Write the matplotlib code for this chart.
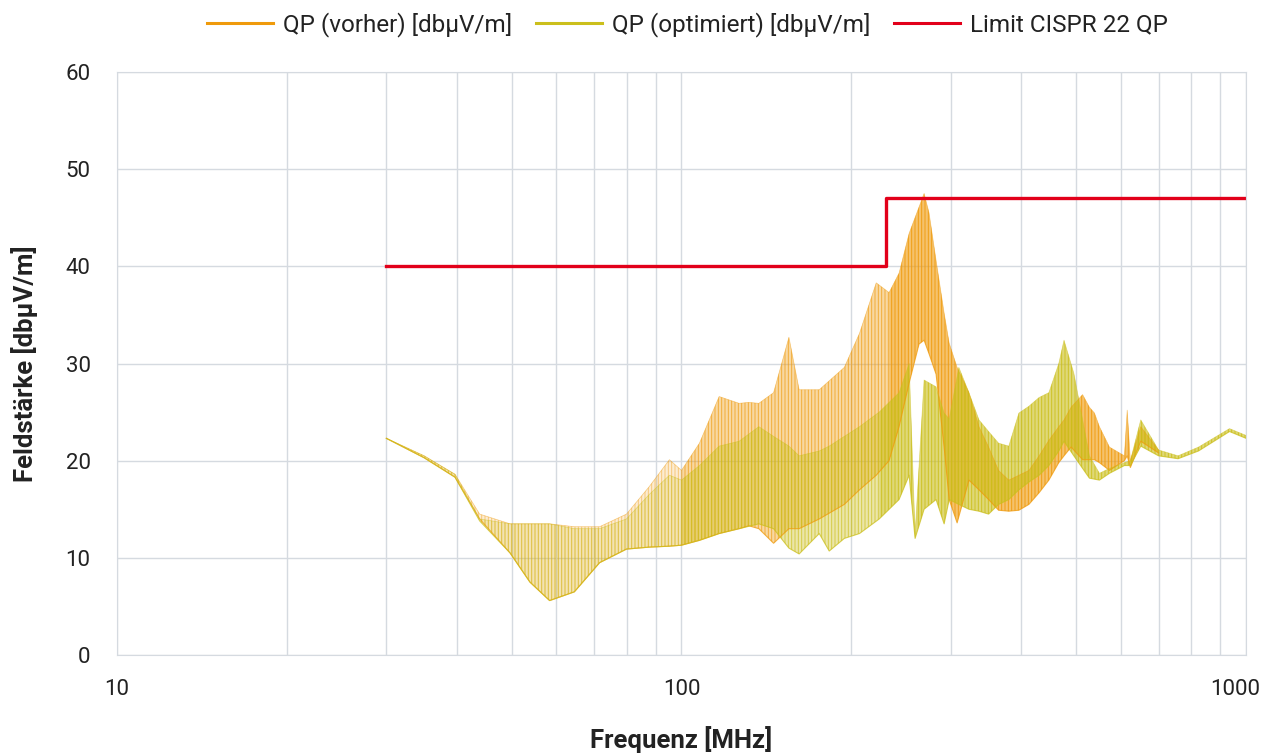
"""
Feldstärke-Messung: QP vorher / optimiert gegen CISPR 22 Grenzwert.
Hüllkurven der Messkurven aus dem Diagramm abgelesen.
"""

import numpy as np
import matplotlib.pyplot as plt
from matplotlib.transforms import ScaledTranslation

# ── Messwerte (Hüllkurven) ───────────────────────────────────────────────────
# QP vorher: Frequenz [MHz], obere / untere Hüllkurve [dBµV/m]
f_vorher = [30, 35, 39.7, 43.9, 49.7, 53.9, 58.4, 64.6, 71.6, 79.9, 87.6, 95.2,
            100, 107.6, 116.6, 126.5, 131.6, 137.1, 145.6, 155, 161.6, 175.4,
            194.3, 206.7, 221.3, 233.2, 242.9, 253.1, 263.5, 269, 274.5, 282.5,
            291.9, 298, 307.8, 323, 336.5, 350, 364.5, 380, 396, 412.5, 430,
            447.5, 466, 476, 490, 513.5, 528, 539, 550, 573, 609, 616, 624,
            651, 700]
hi_vorher = [22.3, 20.5, 18.6, 14.5, 13.5, 13.5, 13.5, 13.2, 13.2, 14.5, 17.3, 20.1,
             19.0, 21.8, 26.6, 25.9, 26.0, 25.9, 27.0, 32.7, 27.3, 27.3,
             29.6, 33.1, 38.3, 37.3, 39.3, 43.4, 46.1, 47.5, 45.5, 40.6,
             35.2, 32.1, 29.6, 27.0, 23.5, 21.4, 19.0, 18.0, 18.5, 19.0, 20.5,
             22.1, 23.5, 24.2, 25.5, 26.8, 25.5, 24.9, 23.5, 21.4, 20.5, 25.2, 20.0,
             23.5, 21.1]
lo_vorher = [22.3, 20.3, 18.3, 14.0, 10.5, 7.5, 5.6, 6.5, 9.5, 10.9, 11.1, 11.2,
             11.3, 11.8, 12.5, 13.0, 13.3, 13.0, 11.5, 13.0, 13.0, 14.0,
             15.5, 17.0, 18.5, 20.0, 23.5, 28.0, 32.0, 32.4, 31.0, 28.9,
             21.4, 16.0, 13.6, 18.0, 17.0, 16.0, 14.9, 14.8, 14.9, 15.5, 16.7,
             18.0, 19.8, 20.5, 21.4, 20.1, 20.1, 20.1, 19.8, 19.0, 20.0, 20.5, 19.3,
             22.0, 20.8]

# QP optimiert
f_opt = [30, 35, 39.7, 43.9, 49.7, 53.9, 58.4, 64.6, 71.6, 79.9, 87.6, 95.2,
         100, 107.6, 116.6, 126.5, 137.1, 145.6, 155, 161.6, 175.4, 182.7,
         194.3, 206.7, 224, 242.9, 253.1, 259.3, 269, 282.5, 291.9, 298,
         310, 323, 336.5, 350, 364.5, 380, 396, 412.5, 430, 447.5, 466,
         476, 495.5, 528, 550, 573, 609, 624, 651, 700, 758, 824, 935, 1000]
hi_opt = [22.3, 20.5, 18.6, 14.0, 13.5, 13.5, 13.5, 13.0, 13.0, 14.0, 16.5, 18.5,
          18.0, 19.5, 21.5, 22.0, 23.5, 22.5, 21.5, 20.5, 21.0, 21.5,
          22.5, 23.5, 25.0, 27.0, 30.0, 12.5, 28.3, 27.6, 24.9, 24.3,
          29.6, 27.0, 24.2, 23.0, 21.8, 21.5, 24.9, 25.6, 26.5, 27.0, 30.0,
          32.4, 29.0, 20.5, 18.7, 19.2, 19.8, 20.0, 24.2, 21.1, 20.5, 21.4, 23.3, 22.6]
lo_opt = [22.3, 20.3, 18.3, 13.8, 10.5, 7.5, 5.6, 6.5, 9.5, 10.9, 11.1, 11.2,
          11.3, 11.8, 12.5, 13.0, 13.5, 13.0, 11.0, 10.4, 12.5, 10.7,
          12.0, 12.5, 14.0, 16.0, 18.5, 12.0, 15.0, 16.0, 13.5, 16.0,
          15.5, 15.0, 14.8, 14.5, 15.5, 16.0, 17.0, 17.8, 18.5, 19.5, 21.0,
          22.0, 20.5, 18.2, 18.0, 18.7, 19.5, 19.5, 21.5, 20.5, 20.2, 21.0, 23.0, 22.3]

# Grenzwert CISPR 22 QP (Klasse B, 3 m)
f_limit = [30, 230, 230, 1000]
limit = [40, 40, 47, 47]

# ── Stil ─────────────────────────────────────────────────────────────────────
C_VORHER = "#ef9a0b"
C_OPT    = "#cbbf1c"
C_LIMIT  = "#e2001a"
C_GRID   = "#d5dae0"
C_TEXT   = "#222222"
# Deckkraft je Frequenzbereich: dünne Spitzen unten, dichte Kurve oben
BANDS = [(0, 100, 0.18, 0.45), (100, 230, 0.38, 0.7), (230, 2000, 0.6, 0.9)]

plt.rcParams["font.family"] = ["Roboto", "DejaVu Sans"]
plt.rcParams["hatch.linewidth"] = 0.7


def draw_band(ax, f, lo, hi, color):
    f = np.asarray(f, dtype=float)
    mid = np.sqrt(f[:-1] * f[1:])          # segment centres (log axis)
    for f0, f1, a_face, a_hatch in BANDS:
        seg = (mid >= f0) & (mid < f1)
        m = np.zeros(len(f), dtype=bool)
        m[:-1] |= seg
        m[1:] |= seg
        ax.fill_between(f, lo, hi, where=m, facecolor=color, alpha=a_face, linewidth=0)
        ax.fill_between(f, lo, hi, where=m, facecolor="none", edgecolor=color,
                        alpha=a_hatch, hatch="|||||", linewidth=0)
    ax.plot(f, hi, color=color, linewidth=0.5, alpha=0.5)
    ax.plot(f, lo, color=color, linewidth=0.8, alpha=0.75)


fig = plt.figure(figsize=(12.66, 7.54), dpi=100)
ax = fig.add_axes([0.0924, 0.1313, 0.8918, 0.7732])

draw_band(ax, f_vorher, lo_vorher, hi_vorher, C_VORHER)
draw_band(ax, f_opt, lo_opt, hi_opt, C_OPT)
ax.plot(f_limit, limit, color=C_LIMIT, linewidth=2.4)

# legend proxies
h1, = ax.plot([], [], color=C_VORHER, linewidth=2.2, label="QP (vorher) [dbµV/m]")
h2, = ax.plot([], [], color=C_OPT, linewidth=2.2, label="QP (optimiert) [dbµV/m]")
h3, = ax.plot([], [], color=C_LIMIT, linewidth=2.2, label="Limit CISPR 22 QP")

ax.set_xscale("log")
ax.set_xlim(10, 1000)
ax.set_ylim(0, 60)
ax.set_yticks(range(0, 61, 10))
ax.set_xticks([10, 100, 1000])
ax.set_xticklabels(["10", "100", "1000"])
ax.grid(True, which="both", color=C_GRID, linewidth=1.0)
ax.set_axisbelow(True)
ax.tick_params(axis="x", which="both", length=0, labelsize=16, colors=C_TEXT, pad=17)
ax.tick_params(axis="y", which="both", length=0, labelsize=16, colors=C_TEXT, pad=19)
for spine in ax.spines.values():
    spine.set_edgecolor(C_GRID)

# "1000" sits slightly left of the axis end, as in the original
last = ax.get_xticklabels()[-1]
last.set_transform(last.get_transform() + ScaledTranslation(-0.11, 0, fig.dpi_scale_trans))

ax.set_xlabel("Frequenz [MHz]", fontsize=18.5, fontweight="bold", color=C_TEXT, labelpad=19)
ax.set_ylabel("Feldstärke [dbµV/m]", fontsize=18.5, fontweight="bold", color=C_TEXT, labelpad=20)

fig.legend(handles=[h1, h2, h3], loc="upper center", bbox_to_anchor=(0.543, 1.013),
           ncol=3, frameon=False, fontsize=17.5, handlelength=2.7, columnspacing=1.0,
           handletextpad=0.4, labelcolor=C_TEXT)

fig.savefig("out.png", dpi=100)
